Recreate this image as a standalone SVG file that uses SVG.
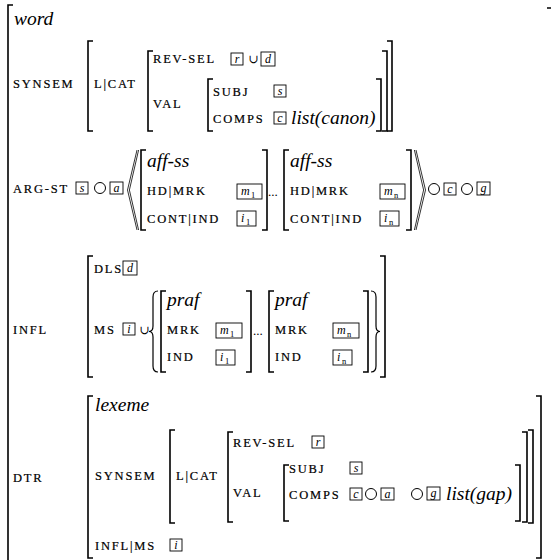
<svg xmlns="http://www.w3.org/2000/svg" width="551" height="560" viewBox="0 0 551 560">
<style>
.k{font-family:"Liberation Serif",serif;font-size:12.5px;letter-spacing:1.8px;fill:#000;stroke:#000;stroke-width:0.2}
.t{font-family:"Liberation Serif",serif;font-style:italic;font-size:19.5px;fill:#000}
.bl{font-family:"Liberation Serif",serif;font-style:italic;font-size:12px;fill:#000}
.sb{font-family:"Liberation Serif",serif;font-size:8.5px;fill:#000}
.sy{font-family:"DejaVu Serif","Liberation Serif",serif;font-size:12px;fill:#000}
.dt{font-family:"Liberation Serif",serif;font-size:13px;fill:#000}
.bx{fill:none;stroke:#000;stroke-width:0.9}
.br{fill:none;stroke:#000;stroke-width:1.6}
.ci{fill:none;stroke:#000;stroke-width:1}
.ag{fill:none;stroke:#000;stroke-width:0.8}
</style>
<g id="outer">
<path class="br" d="M13,5 H8 V566"/>
<path class="br" d="M547,8 H552.8 V566"/>
<text class="t" x="14" y="25">word</text>
</g>
<g id="synsem">
<text class="k" x="13" y="88">SYNSEM</text>
<path class="br" d="M93,41 H88 V131 H93"/>
<text class="k" x="94" y="88">L|CAT</text>
<path class="br" d="M153,51 H148 V131 H153"/>
<text class="k" x="153" y="63">REV-SEL</text>
<rect class="bx" x="231" y="53" width="12" height="12"/><text class="bl" x="237" y="63" text-anchor="middle">r</text>
<text class="sy" x="248.5" y="63">∪</text>
<rect class="bx" x="261" y="52" width="14" height="14"/><text class="bl" x="268" y="63" text-anchor="middle">d</text>
<text class="k" x="153" y="108">VAL</text>
<path class="br" d="M213,79 H208 V131 H213"/>
<text class="k" x="213" y="96">SUBJ</text>
<rect class="bx" x="274" y="85" width="12" height="12"/><text class="bl" x="280" y="95" text-anchor="middle">s</text>
<text class="k" x="213" y="123">COMPS</text>
<rect class="bx" x="274" y="112" width="12" height="12"/><text class="bl" x="280" y="122" text-anchor="middle">c</text>
<text class="t" x="291" y="124">list(canon)</text>
<path class="br" d="M376,79 H381 V131 H376"/>
<path class="br" d="M382,51 H387 V131 H382"/>
<path class="br" d="M387,41 H392 V131 H387"/>
</g>
<g id="argst">
<text class="k" x="13" y="193">ARG-ST</text>
<rect class="bx" x="76" y="182" width="12" height="12"/><text class="bl" x="82" y="192" text-anchor="middle">s</text>
<circle class="ci" cx="100" cy="188" r="5.5"/>
<rect class="bx" x="110" y="182" width="13" height="12"/><text class="bl" x="116.5" y="192" text-anchor="middle">a</text>
<path class="ag" d="M137,150 L127.5,190 L137,230 M138.6,150 L129.4,190 L138.6,230"/>
<path class="br" d="M146,150 H141 V230 H146"/>
<text class="t" x="147" y="167">aff-ss</text>
<text class="k" x="147" y="195">HD|MRK</text>
<rect class="bx" x="237" y="184" width="25" height="15"/><text class="bl" x="241" y="195">m</text><text class="sb" x="251" y="198">1</text>
<text class="k" x="147" y="223">CONT|IND</text>
<rect class="bx" x="237" y="211" width="19" height="15"/><text class="bl" x="241" y="222">i</text><text class="sb" x="246" y="225">1</text>
<path class="br" d="M262,150 H267 V230 H262"/>
<text class="dt" x="268" y="196">...</text>
<path class="br" d="M289,150 H284 V230 H289"/>
<text class="t" x="290" y="167">aff-ss</text>
<text class="k" x="290" y="195">HD|MRK</text>
<rect class="bx" x="380" y="184" width="25" height="15"/><text class="bl" x="384" y="195">m</text><text class="sb" x="394" y="198">n</text>
<text class="k" x="290" y="223">CONT|IND</text>
<rect class="bx" x="380" y="211" width="19" height="15"/><text class="bl" x="384" y="222">i</text><text class="sb" x="389" y="225">n</text>
<path class="br" d="M406,150 H411 V230 H406"/>
<path class="ag" d="M414.4,150 L423.6,190 L414.4,230 M416,150 L425.5,190 L416,230"/>
<circle class="ci" cx="434" cy="189" r="5.5"/>
<rect class="bx" x="444" y="183" width="12" height="12"/><text class="bl" x="450" y="193" text-anchor="middle">c</text>
<circle class="ci" cx="467" cy="189" r="5.5"/>
<rect class="bx" x="477" y="182" width="13" height="13"/><text class="bl" x="483.5" y="192" text-anchor="middle">g</text>
</g>
<g id="infl">
<text class="k" x="13" y="334">INFL</text>
<path class="br" d="M93,256 H88 V377 H93"/>
<text class="k" x="94" y="273">DLS</text>
<rect class="bx" x="123" y="261" width="14" height="14"/><text class="bl" x="130" y="272" text-anchor="middle">d</text>
<text class="k" x="94" y="334">MS</text>
<rect class="bx" x="123" y="323" width="12" height="12"/><text class="bl" x="129" y="333" text-anchor="middle">i</text>
<text class="sy" x="139.5" y="334">∪</text>
<path class="br" style="stroke-width:1.2" d="M158,291 Q153,291 153,297 V326 Q153,331.5 149,331.5 Q153,331.5 153,337 V366 Q153,372 158,372"/>
<path class="br" d="M166,291 H161 V372 H166"/>
<text class="t" x="167" y="306">praf</text>
<text class="k" x="167" y="334">MRK</text>
<rect class="bx" x="216" y="323" width="26" height="15"/><text class="bl" x="220" y="334">m</text><text class="sb" x="230" y="337">1</text>
<text class="k" x="167" y="361">IND</text>
<rect class="bx" x="216" y="350" width="19" height="15"/><text class="bl" x="220" y="361">i</text><text class="sb" x="225" y="364">1</text>
<path class="br" d="M246,291 H251 V372 H246"/>
<text class="dt" x="253" y="335">...</text>
<path class="br" d="M274,291 H269 V372 H274"/>
<text class="t" x="275" y="306">praf</text>
<text class="k" x="275" y="334">MRK</text>
<rect class="bx" x="333" y="323" width="26" height="15"/><text class="bl" x="337" y="334">m</text><text class="sb" x="347" y="337">n</text>
<text class="k" x="275" y="361">IND</text>
<rect class="bx" x="333" y="350" width="19" height="15"/><text class="bl" x="337" y="361">i</text><text class="sb" x="342" y="364">n</text>
<path class="br" d="M363,291 H368 V372 H363"/>
<path class="br" style="stroke-width:1.2" d="M371,291 Q376,291 376,297 V326 Q376,331.5 380,331.5 Q376,331.5 376,337 V366 Q376,372 371,372"/>
<path class="br" d="M380,256 H385 V377 H380"/>
</g>
<g id="dtr">
<text class="k" x="13" y="482">DTR</text>
<path class="br" d="M93,396 H88 V558 H93"/>
<text class="t" x="95" y="411">lexeme</text>
<text class="k" x="95" y="480">SYNSEM</text>
<path class="br" d="M175,430 H170 V523 H175"/>
<text class="k" x="176" y="480">L|CAT</text>
<path class="br" d="M233,432 H228 V522 H233"/>
<text class="k" x="233" y="447">REV-SEL</text>
<rect class="bx" x="312" y="436" width="12" height="12"/><text class="bl" x="318" y="446" text-anchor="middle">r</text>
<text class="k" x="233" y="497">VAL</text>
<path class="br" d="M289,465 H284 V521 H289"/>
<text class="k" x="289" y="473">SUBJ</text>
<rect class="bx" x="350" y="462" width="12" height="12"/><text class="bl" x="356" y="472" text-anchor="middle">s</text>
<text class="k" x="289" y="499">COMPS</text>
<rect class="bx" x="350" y="488" width="12" height="12"/><text class="bl" x="356" y="498" text-anchor="middle">c</text>
<circle class="ci" cx="371" cy="494" r="5.5"/>
<rect class="bx" x="381" y="488" width="13" height="12"/><text class="bl" x="387.5" y="498" text-anchor="middle">a</text>
<circle class="ci" cx="417" cy="494" r="5.5"/>
<rect class="bx" x="427" y="487" width="13" height="13"/><text class="bl" x="433.5" y="497" text-anchor="middle">g</text>
<text class="t" x="446" y="500">list(gap)</text>
<path class="br" d="M515,465 H520 V521 H515"/>
<path class="br" d="M522,432 H527 V522 H522"/>
<path class="br" d="M528,430 H533 V523 H528"/>
<text class="k" x="95" y="550">INFL|MS</text>
<rect class="bx" x="170" y="539" width="12" height="12"/><text class="bl" x="176" y="549" text-anchor="middle">i</text>
<path class="br" d="M536,396 H541 V558 H536"/>
</g>
</svg>
